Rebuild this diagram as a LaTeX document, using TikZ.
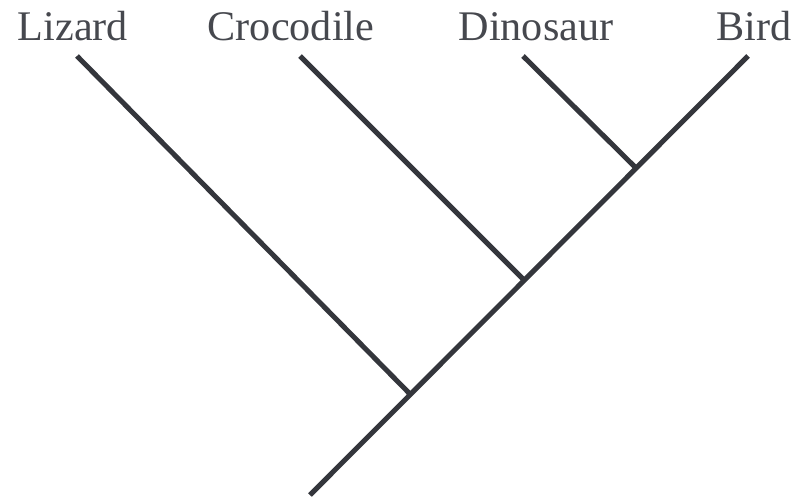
\documentclass[tikz,border=0pt]{standalone}
\usepackage{fontspec}
\setmainfont{Liberation Serif}
\usetikzlibrary{positioning,calc}
\definecolor{BranchGray}{RGB}{52,54,60}
\definecolor{LabelGray}{RGB}{70,72,78}
\tikzset{
  branch/.style={draw=BranchGray,line width=0.05cm},
  taxon/.style={anchor=base,inner sep=0pt,text=LabelGray,
    font=\fontsize{12}{14}\selectfont}
}

\begin{document}
\begin{tikzpicture}[x=0.01cm,y=-0.01cm]
  \useasboundingbox (0,0) rectangle (800,497);
  % taxa
  \node[taxon] (lizard) at (73,40) {Lizard};
  \node[taxon] (croc) at (291,40) {Crocodile};
  \node[taxon] (dino) at (536,40) {Dinosaur};
  \node[taxon] (bird) at (754,40) {Bird};
  % tips, nodes and root
  \coordinate (tipL) at (77,56);
  \coordinate (tipC) at (300,56);
  \coordinate (tipD) at (523,56);
  \coordinate (tipB) at (748,56);
  \coordinate (jD) at (635,167);
  \coordinate (jC) at (523,279);
  \coordinate (jL) at (409,393);
  \coordinate (root) at (310,495);
  \draw[branch] (tipB) -- (root);
  \draw[branch] (tipD) -- (jD);
  \draw[branch] (tipC) -- (jC);
  \draw[branch] (tipL) -- (jL);
\end{tikzpicture}
\end{document}
